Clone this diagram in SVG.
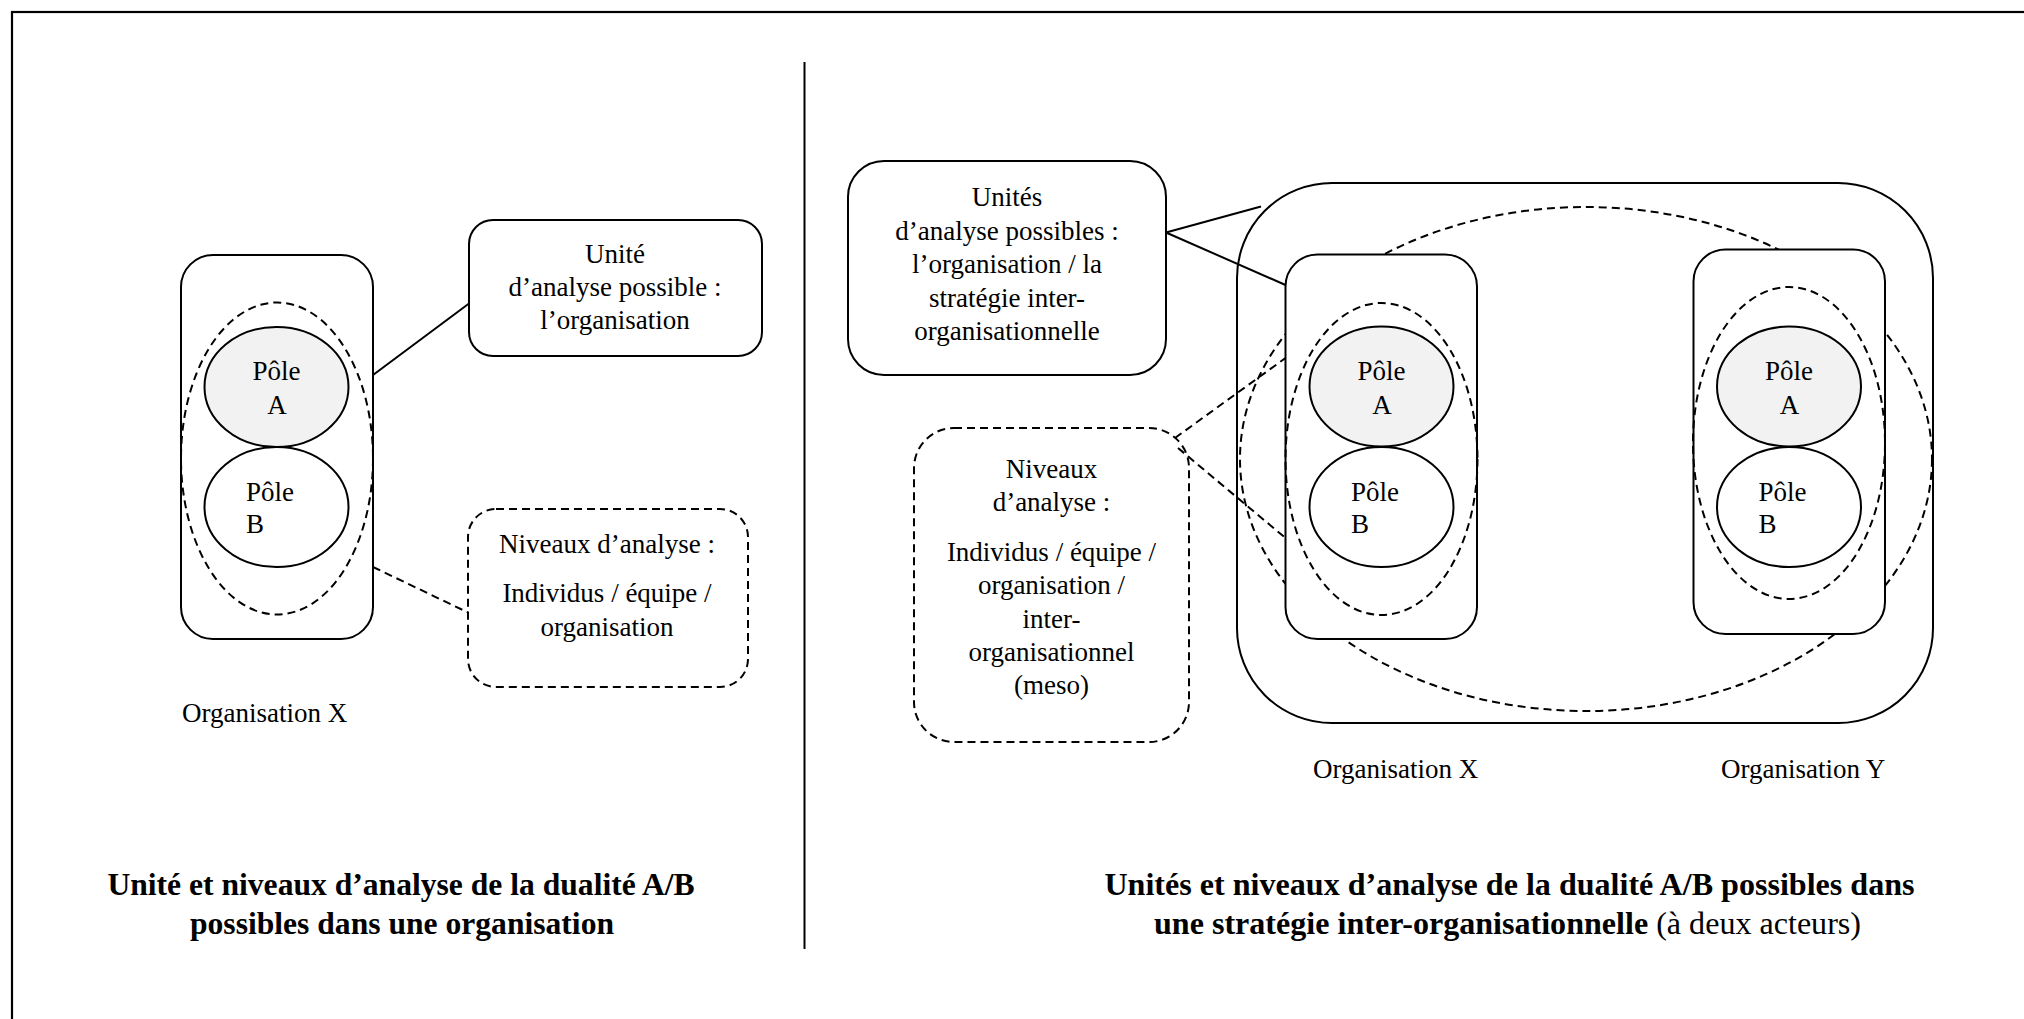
<svg xmlns="http://www.w3.org/2000/svg" width="2024" height="1019" viewBox="0 0 2024 1019">
<style>
  text { font-family: "Liberation Serif", "Times New Roman", serif; font-size: 27px; fill: #000; }
  .c { text-anchor: middle; }
  .title { font-size: 31.6px; font-weight: bold; }
  .title2 { font-size: 32.1px; font-weight: bold; }
  .reg { font-weight: normal; }
  .solid { fill: #fff; stroke: #000; stroke-width: 2; }
  .dash { fill: none; stroke: #000; stroke-width: 2; stroke-dasharray: 8 5; }
  .dashbox { fill: #fff; stroke: #000; stroke-width: 2; stroke-dasharray: 8 5; }
  .poleA { fill: #f2f2f2; stroke: #000; stroke-width: 2; }
  .poleB { fill: #fff; stroke: #000; stroke-width: 2; }
  .line { stroke: #000; stroke-width: 2; fill: none; }
</style>
<rect width="2024" height="1019" fill="#fff"/>
<rect x="12" y="12" width="2100" height="1100" fill="none" stroke="#000" stroke-width="2.2"/>
<line x1="804.5" y1="62" x2="804.5" y2="949" stroke="#000" stroke-width="2"/>

<!-- LEFT PANEL -->
<g id="org-x-left">
  <rect class="solid" x="181" y="255" width="192" height="384" rx="32"/>
  <ellipse class="dash" cx="277" cy="458.5" rx="96" ry="156"/>
  <text x="182" y="722">Organisation X</text>
</g>
<g id="pole-a-left">
  <ellipse class="poleA" cx="276.5" cy="387" rx="72" ry="60"/>
  <text class="c" x="276.5" y="380">Pôle</text>
  <text class="c" x="277" y="413.5">A</text>
</g>
<g id="pole-b-left">
  <ellipse class="poleB" cx="276.5" cy="507" rx="72" ry="60"/>
  <text x="246" y="500.5">Pôle</text>
  <text x="246" y="532.5">B</text>
</g>
<g id="unite-left">
  <rect class="solid" x="469" y="220" width="293" height="136" rx="24"/>
  <text class="c" x="615" y="263">Unité</text>
  <text class="c" x="615" y="296">d’analyse possible :</text>
  <text class="c" x="615" y="329">l’organisation</text>
</g>
<g id="niveaux-left">
  <rect class="dashbox" x="468" y="509" width="280" height="178" rx="28"/>
  <text class="c" x="607" y="553">Niveaux d’analyse :</text>
  <text class="c" x="607" y="601.5">Individus / équipe /</text>
  <text class="c" x="607" y="635.5">organisation</text>
</g>
<g id="title-left">
  <text class="title c" x="401" y="895">Unité et niveaux d’analyse de la dualité A/B</text>
  <text class="title c" x="402" y="934">possibles dans une organisation</text>
</g>

<!-- RIGHT PANEL -->
<g id="inter-org">
  <rect class="solid" x="1237" y="183" width="696" height="540" rx="95"/>
  <ellipse class="dash" cx="1586" cy="459" rx="346" ry="252"/>
</g>
<g id="org-x-right">
  <rect class="solid" x="1285.5" y="254.5" width="191.5" height="384.5" rx="32"/>
  <ellipse class="dash" cx="1381.5" cy="459" rx="96" ry="156"/>
  <text x="1313" y="778">Organisation X</text>
</g>
<g id="org-y-right">
  <rect class="solid" x="1693.5" y="249.5" width="191.5" height="384.5" rx="32"/>
  <ellipse class="dash" cx="1789" cy="443" rx="96" ry="156"/>
  <text x="1721" y="778">Organisation Y</text>
</g>
<g id="pole-a-x">
  <ellipse class="poleA" cx="1381.5" cy="386.5" rx="72" ry="60"/>
  <text class="c" x="1381.5" y="380">Pôle</text>
  <text class="c" x="1382" y="413.5">A</text>
</g>
<g id="pole-b-x">
  <ellipse class="poleB" cx="1381.5" cy="507" rx="72" ry="60"/>
  <text x="1351" y="500.5">Pôle</text>
  <text x="1351" y="532.5">B</text>
</g>
<g id="pole-a-y">
  <ellipse class="poleA" cx="1789" cy="386.5" rx="72" ry="60"/>
  <text class="c" x="1789" y="380">Pôle</text>
  <text class="c" x="1789.5" y="413.5">A</text>
</g>
<g id="pole-b-y">
  <ellipse class="poleB" cx="1789" cy="507" rx="72" ry="60"/>
  <text x="1758.5" y="500.5">Pôle</text>
  <text x="1758.5" y="532.5">B</text>
</g>
<g id="unites-right">
  <rect class="solid" x="848" y="161" width="318" height="214" rx="36"/>
  <text class="c" x="1007" y="206">Unités</text>
  <text class="c" x="1007" y="239.5">d’analyse possibles :</text>
  <text class="c" x="1007" y="273">l’organisation / la</text>
  <text class="c" x="1007" y="306.5">stratégie inter-</text>
  <text class="c" x="1007" y="340">organisationnelle</text>
</g>
<g id="niveaux-right">
  <rect class="dashbox" x="914" y="428" width="275" height="314" rx="40"/>
  <text class="c" x="1051.5" y="477.5">Niveaux</text>
  <text class="c" x="1051.5" y="511">d’analyse :</text>
  <text class="c" x="1051.5" y="560.5">Individus / équipe /</text>
  <text class="c" x="1051.5" y="594">organisation /</text>
  <text class="c" x="1051.5" y="627.5">inter-</text>
  <text class="c" x="1051.5" y="661">organisationnel</text>
  <text class="c" x="1051.5" y="694">(meso)</text>
</g>
<g id="title-right">
  <text class="title2 c" x="1509.5" y="895">Unités et niveaux d’analyse de la dualité A/B possibles dans</text>
  <text class="title2 c" x="1507.5" y="934">une stratégie inter-organisationnelle<tspan class="reg"> (à deux acteurs)</tspan></text>
</g>

<g id="connectors">
  <line class="line" x1="373" y1="375" x2="469" y2="303.5"/>
  <line class="dash" x1="373" y1="567" x2="468" y2="612.5"/>
  <line class="line" x1="1166" y1="232.5" x2="1261" y2="206.5"/>
  <line class="line" x1="1166" y1="232.5" x2="1285.5" y2="285"/>
  <line class="dash" x1="1175" y1="438" x2="1285.5" y2="358"/>
  <line class="dash" x1="1178" y1="448" x2="1285.5" y2="538"/>
</g>
</svg>
